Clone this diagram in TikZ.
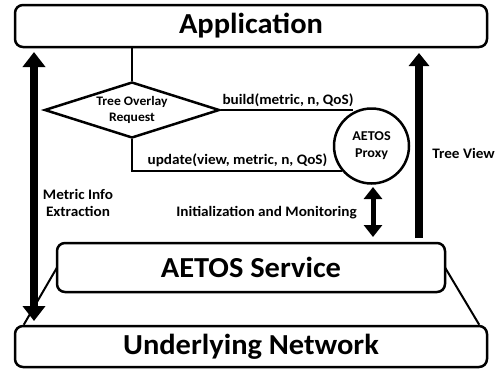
\documentclass[tikz,border=0pt]{standalone}
\usepackage{fontspec}
\setmainfont{Carlito}[FakeStretch=1.05]
\usetikzlibrary{arrows.meta,shapes.geometric}
\tikzset{
  layerbox/.style={draw, line width=2.5pt, rounded corners=8pt, fill=white, inner sep=0pt,
    font=\fontsize{29}{32}\selectfont\bfseries},
  conn/.style={line width=1.6pt},
  lbl/.style={font=\fontsize{14.5}{17}\selectfont\bfseries, inner sep=0pt, align=center},
  small/.style={font=\fontsize{13}{16}\selectfont\bfseries, inner sep=0pt, align=center},
  bigarrow/.style={line width=8pt},
}
\begin{document}
\begin{tikzpicture}[x=1pt,y=-1pt]
\useasboundingbox[fill=white] (0,0) rectangle (500,373);
% layers
\node[layerbox, minimum width=472pt, minimum height=42pt] (app) at (251,26) {Application};
\node[layerbox, minimum width=472pt, minimum height=41pt] (net) at (251,346.5) {Underlying Network};
% diagonals
\draw[line width=2pt] (57,267.5) -- ([xshift=10pt]net.north west);
\draw[line width=2pt] (445,267.5) -- ([xshift=-9pt]net.north east);
\node[layerbox, minimum width=388pt, minimum height=49pt] (svc) at (251,267.5) {AETOS Service};
% diamond
\node[draw, diamond, line width=2.5pt, inner sep=0pt, minimum width=175pt, minimum height=56pt] (tor) at (132,110) {};
\node[small] (tortext) at (tor.center) {Tree Overlay\\Request};
% proxy
\node[draw, circle, line width=2.5pt, inner sep=0pt, minimum size=75pt, fill=white] (proxy) at (371.5,146) {};
\node[small, font=\fontsize{13.5}{17}\selectfont\bfseries] (proxytext) at (proxy.center) {AETOS\\Proxy};
% connectors
\draw[conn] (tor.north) -- (tor.north |- app.south);
\draw[conn] (tor.east) -- (tor.east -| proxy.118);
\draw[conn] (tor.south) |- (proxy.220);
% arrows
\coordinate (la1) at (34,52);
\coordinate (la2) at (34,321);
\draw[bigarrow, {Triangle[width=22pt,length=15pt]}-{Triangle[width=22pt,length=15pt]}] (la2) -- (la1);
\coordinate (ra1) at (419,238);
\coordinate (ra2) at (419,53);
\draw[bigarrow, line width=7.5pt, -{Triangle[width=20pt,length=13pt]}] (ra1) -- (ra2);
\coordinate (da1) at (373,187);
\coordinate (da2) at (373,237);
\draw[line width=5pt, {Triangle[width=18pt,length=12pt]}-{Triangle[width=18pt,length=12pt]}] (da1) -- (da2);
% labels
\node[lbl] (buildl) at (288,100) {build(metric, n, QoS)};
\node[lbl] (updl) at (237.5,160) {update(view, metric, n, QoS)};
\node[lbl] (treev) at (463.5,153) {Tree View};
\node[lbl] (metr) at (78,203) {Metric Info\\Extraction};
\node[lbl] (initl) at (266.5,213) {Initialization and Monitoring};
\end{tikzpicture}
\end{document}
